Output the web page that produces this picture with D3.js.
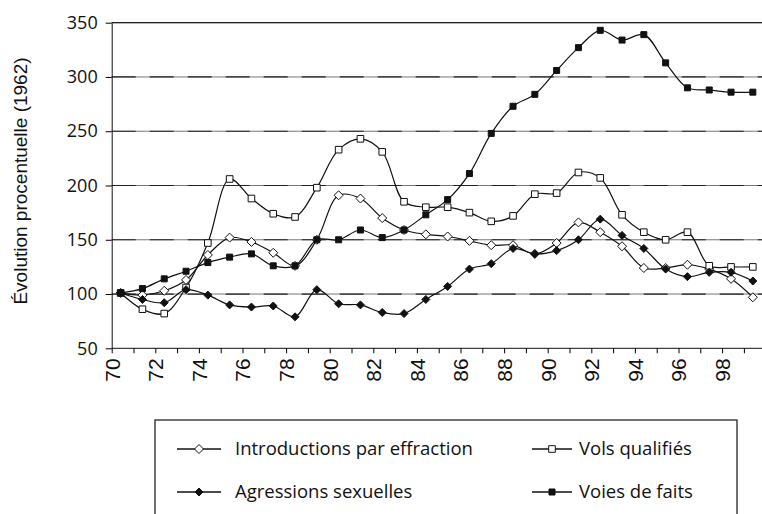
<!DOCTYPE html>
<html>
<head>
<meta charset="utf-8">
<script src="https://cdn.jsdelivr.net/npm/d3@7/dist/d3.min.js"></script>
<style>
  body { margin: 0; background: #fff; }
  svg { display: block; }
</style>
</head>
<body>
<svg id="paper"></svg>
<script>
// annual values, 1970-1999 (shown as two-digit years)
let years = [70, 71, 72, 73, 74, 75, 76, 77, 78, 79, 80, 81, 82, 83, 84,
             85, 86, 87, 88, 89, 90, 91, 92, 93, 94, 95, 96, 97, 98, 99];
let tickLabels = ["70", "72", "74", "76", "78", "80", "82", "84", "86", "88", "90", "92", "94", "96", "98"];
let yTicks = [50, 100, 150, 200, 250, 300, 350];

let effraction = [101, 99, 103, 113, 136, 152, 148, 138, 126, 150, 191, 188, 170, 159, 155,
                  153, 149, 145, 145, 137, 147, 166, 157, 144, 124, 124, 127, 123, 114, 97];
let volsQualifies = [101, 86, 82, 106, 147, 206, 188, 174, 171, 198, 233, 243, 231, 185, 180,
                     180, 175, 167, 172, 192, 193, 212, 207, 173, 157, 150, 157, 126, 125, 125];
let agressions = [101, 95, 92, 104, 99, 90, 88, 89, 79, 104, 91, 90, 83, 82, 95,
                  107, 123, 128, 142, 137, 140, 150, 169, 154, 142, 123, 116, 120, 120, 112];
let voiesDeFaits = [101, 105, 114, 121, 129, 134, 137, 126, 126, 150, 150, 159, 152, 159, 173,
                    187, 211, 248, 273, 284, 306, 327, 343, 334, 339, 313, 290, 288, 286, 286];

let series = [
    {name: "Introductions par effraction", values: effraction, shape: "diamond", filled: false},
    {name: "Vols qualifiés", values: volsQualifies, shape: "square", filled: false},
    {name: "Agressions sexuelles", values: agressions, shape: "diamond", filled: true},
    {name: "Voies de faits", values: voiesDeFaits, shape: "square", filled: true}
];

let W = 762, H = 514;
let plot = {left: 111.7, top: 22.7, bottom: 348.3, right: 762};

let svg = d3.select("#paper").attr("width", W).attr("height", H);

let x = d3.scaleLinear().domain([70, 100]).range([plot.left, plot.left + 30 * 21.8]);
let y = d3.scaleLinear().domain([50, 350]).range([plot.bottom, plot.top]);
let midYear = 0.41;

function markerPath(shape, s) {
    if (shape === "diamond") return `M0,${-s}L${s},0L0,${s}L${-s},0Z`;
    return `M${-s},${-s}H${s}V${s}H${-s}Z`;
}
function markerSize(d) {
    if (d.shape === "diamond") return d.filled ? 4 : 4.5;
    return d.filled ? 3 : 3.3;
}

// gridlines (scanned look: grey line with dark dashes)
let grid = svg.append("g");
grid.selectAll("line.base")
    .data(yTicks.filter(v => v > 50))
    .enter().append("line")
    .attr("class", "base")
    .attr("x1", plot.left).attr("x2", plot.right)
    .attr("y1", d => y(d)).attr("y2", d => y(d))
    .style("stroke", "#777").style("stroke-width", 1);
grid.selectAll("line.dash")
    .data(yTicks.filter(v => v > 50))
    .enter().append("line")
    .attr("class", "dash")
    .attr("x1", plot.left).attr("x2", plot.right)
    .attr("y1", d => y(d)).attr("y2", d => y(d))
    .style("stroke", "#222").style("stroke-width", 1.2)
    .style("stroke-dasharray", d => d === 350 ? null : "24,14");

// y axis
let yAxis = svg.append("g")
    .attr("transform", `translate(${plot.left},0)`)
    .call(d3.axisLeft(y).tickValues(yTicks).tickSize(6).tickPadding(8).tickSizeOuter(0));
yAxis.select(".domain").attr("stroke", "#111");
yAxis.selectAll("text").style("font-family", "'Open Sans'").style("font-size", "18px").attr("fill", "#111");

// x axis
let xAxis = svg.append("g")
    .attr("transform", `translate(0,${plot.bottom})`)
    .call(d3.axisBottom(x).tickValues(years).tickSize(5).tickSizeOuter(0)
        .tickFormat(d => tickLabels.includes(String(d)) ? String(d) : ""));
xAxis.select(".domain").attr("d", `M${plot.left},0H${plot.right}`).attr("stroke", "#111");
xAxis.selectAll("text")
    .style("font-family", "'Liberation Sans'").style("font-size", "21px").attr("fill", "#111")
    .attr("transform", "rotate(-90)")
    .attr("text-anchor", "end")
    .attr("x", -10).attr("y", 0).attr("dy", "0.35em");

// y title
svg.append("text")
    .attr("transform", "translate(27,181) rotate(-90)")
    .attr("text-anchor", "middle")
    .style("font-family", "'Liberation Sans'").style("font-size", "19px").attr("fill", "#111")
    .text("Évolution procentuelle (1962)");

// lines
let line = d3.line()
    .x((v, i) => x(years[i] + midYear))
    .y(v => y(v))
    .curve(d3.curveCatmullRom.alpha(0.5));

let groups = svg.selectAll("g.series")
    .data(series)
    .enter().append("g")
    .attr("class", "series");

groups.append("path")
    .attr("d", d => line(d.values))
    .style("fill", "none").style("stroke", "#111").style("stroke-width", 1.2);

groups.each(function (d) {
    d3.select(this).selectAll("path.mk")
        .data(d.values)
        .enter().append("path")
        .attr("class", "mk")
        .attr("transform", (v, i) => `translate(${x(years[i] + midYear)},${y(v)})`)
        .attr("d", markerPath(d.shape, markerSize(d)))
        .style("fill", d.filled ? "#111" : "#fff")
        .style("stroke", "#111").style("stroke-width", 1);
});

// legend
let legend = svg.append("g");
legend.append("rect")
    .attr("x", 155).attr("y", 420).attr("width", 582).attr("height", 130)
    .style("fill", "#fff").style("stroke", "#111").style("stroke-width", 1.2);

let legendPos = [
    {x: 177, y: 449, len: 44, tx: 58}, {x: 532, y: 449, len: 40, tx: 47},
    {x: 177, y: 492, len: 44, tx: 58}, {x: 532, y: 492, len: 40, tx: 47}
];
let items = legend.selectAll("g.item")
    .data(series)
    .enter().append("g")
    .attr("class", "item")
    .attr("transform", (d, i) => `translate(${legendPos[i].x},${legendPos[i].y})`);
items.append("line")
    .attr("x1", 0).attr("x2", (d, i) => legendPos[i].len).attr("y1", 0).attr("y2", 0)
    .style("stroke", "#111").style("stroke-width", 1.5);
items.append("path")
    .attr("transform", (d, i) => `translate(${legendPos[i].len / 2},0)`)
    .attr("d", d => markerPath(d.shape, markerSize(d)))
    .style("fill", d => d.filled ? "#111" : "#fff")
    .style("stroke", "#111").style("stroke-width", 1);
items.append("text")
    .attr("x", (d, i) => legendPos[i].tx).attr("y", 0).attr("dy", "0.35em")
    .style("font-family", "'Open Sans'").style("font-size", "18.5px").attr("fill", "#111")
    .text(d => d.name);
</script>
</body>
</html>
